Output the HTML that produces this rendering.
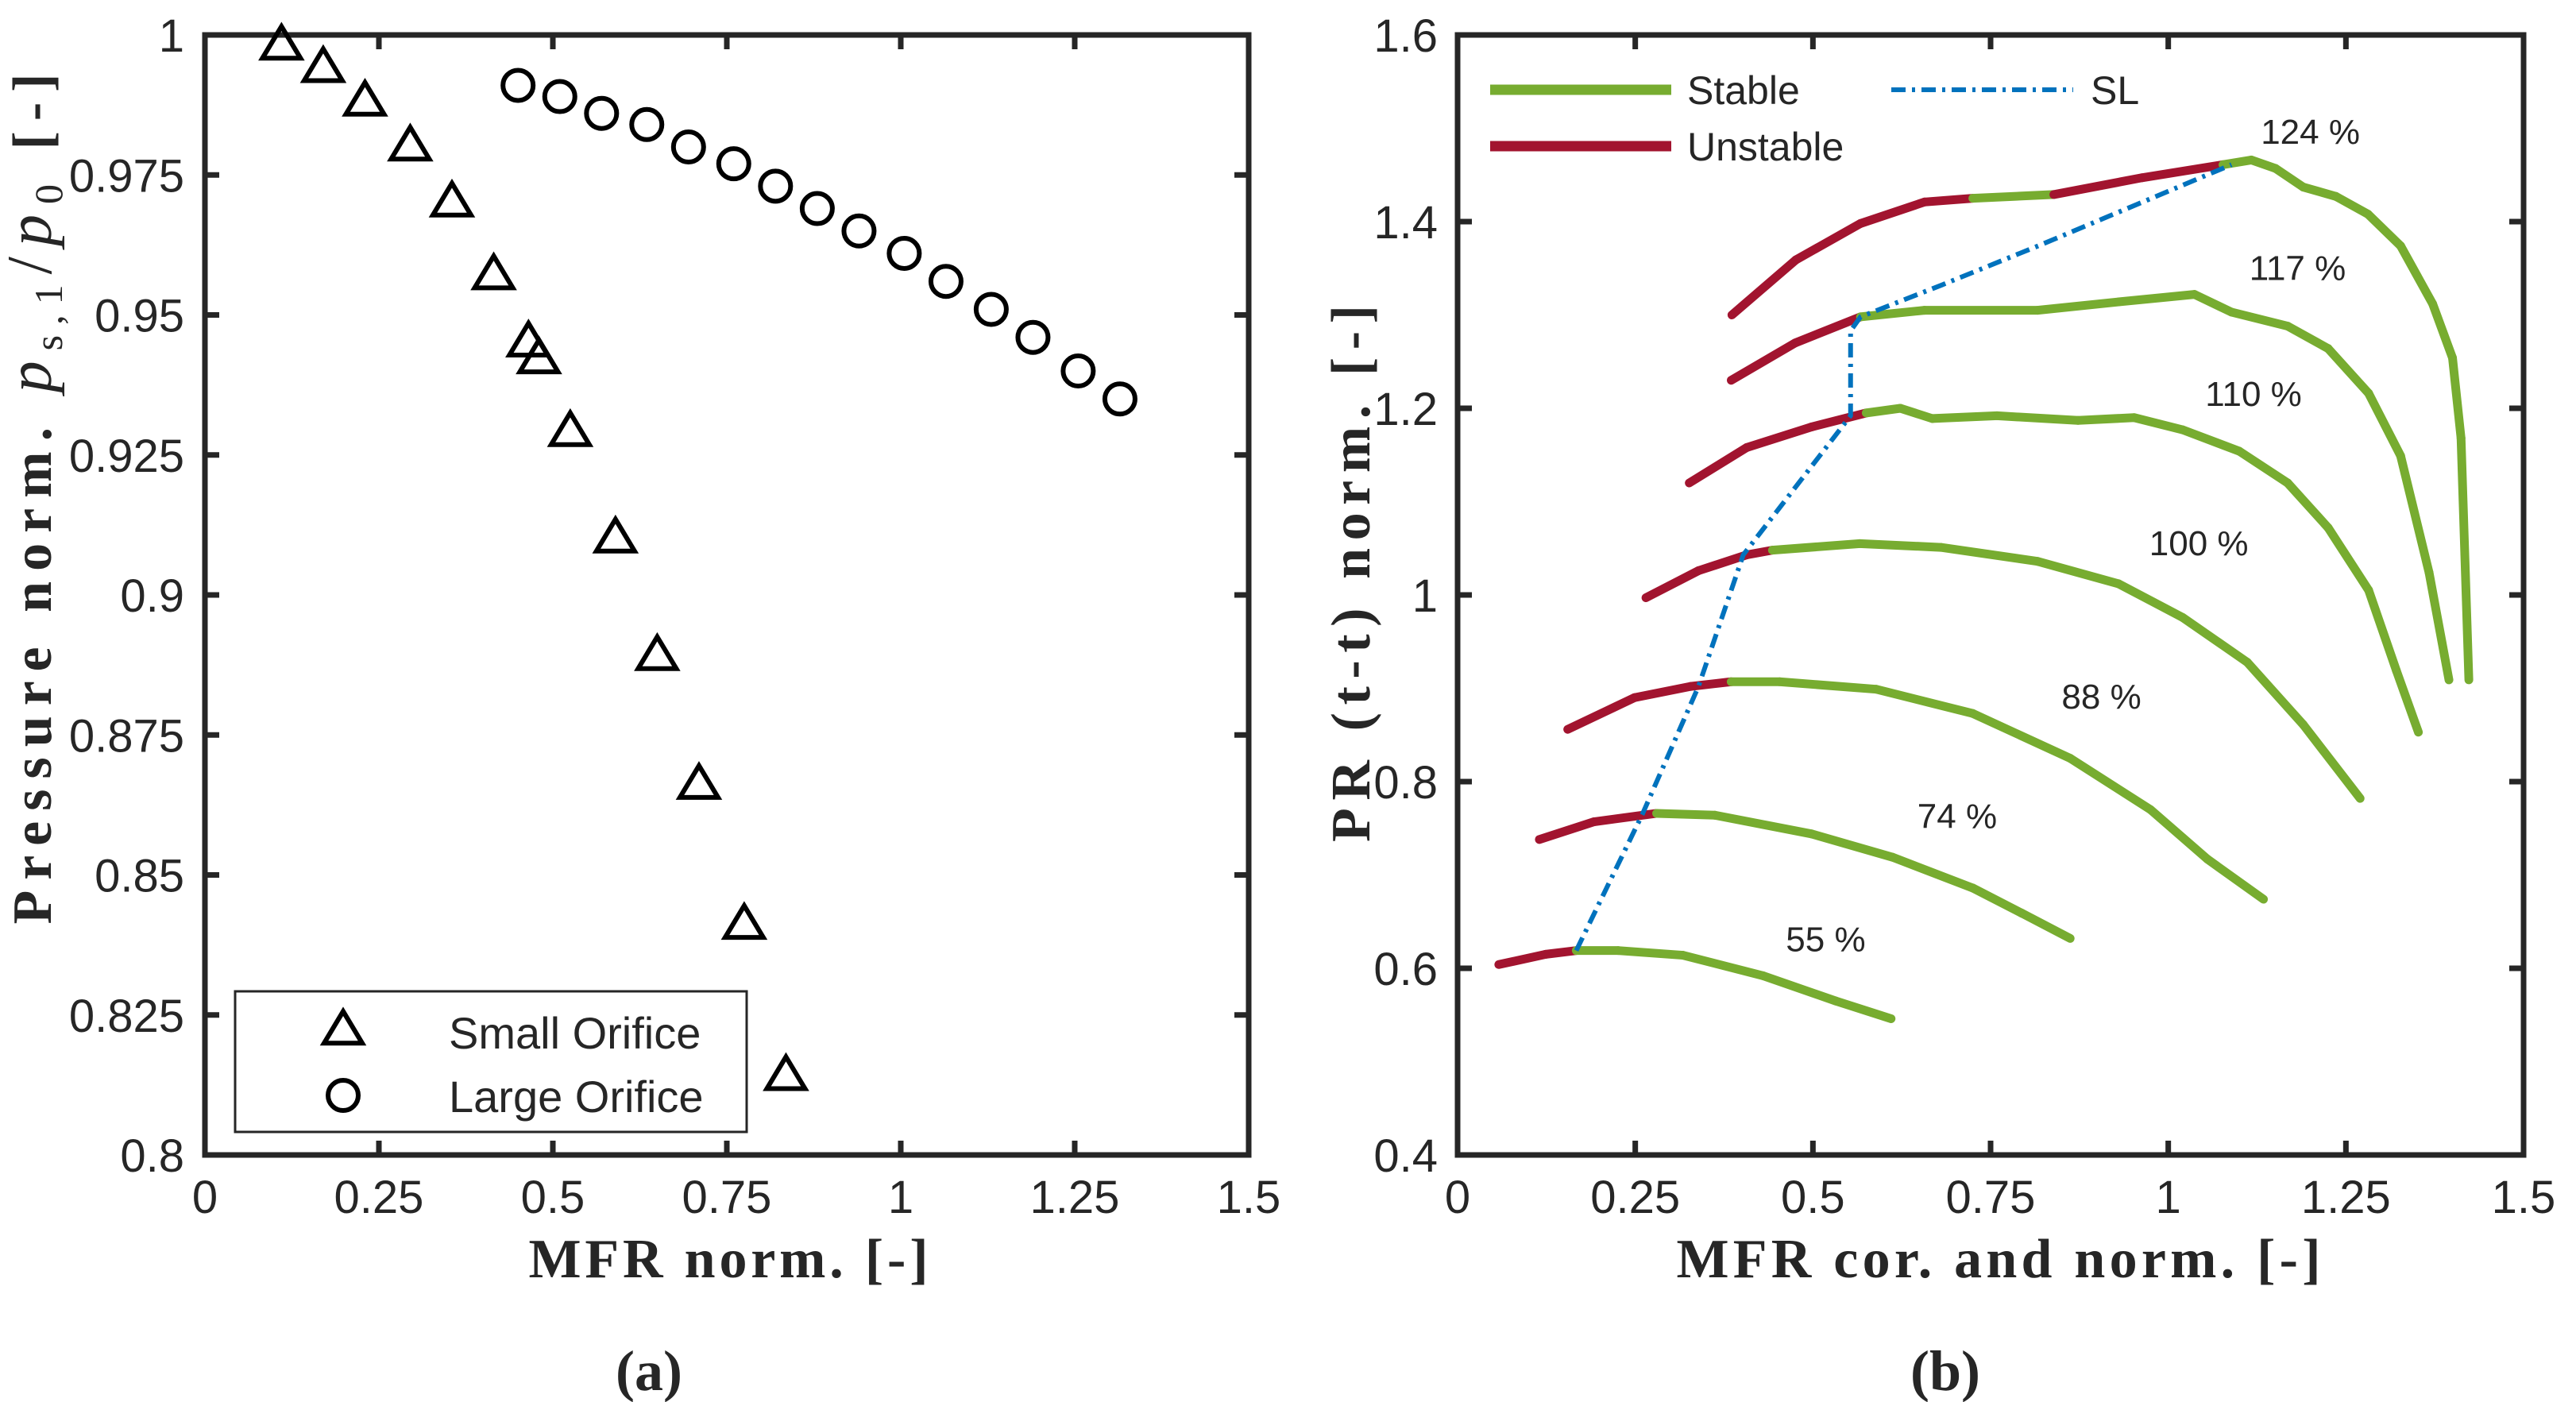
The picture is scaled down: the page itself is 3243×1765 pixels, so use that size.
<!DOCTYPE html>
<html><head><meta charset="utf-8"><style>
html,body{margin:0;padding:0;background:#fff;}
svg{display:block;}
text{font-family:"Liberation Sans",sans-serif;fill:#262626;}
.ttl{font-family:"Liberation Serif",serif;font-weight:bold;fill:#262626;}
</style></head><body>
<svg id="fig" width="3243" height="1765" viewBox="0 0 3243 1765" xmlns="http://www.w3.org/2000/svg">
<g id="left"></g>
<g id="right"></g>
</svg>
<script>
// ---------- Left chart data ----------
const smallX = [0.11,0.17,0.23,0.295,0.355,0.415,0.465,0.48,0.525,0.59,0.65,0.71,0.775,0.835];
const smallY = [0.998,0.994,0.988,0.980,0.970,0.957,0.945,0.942,0.929,0.910,0.889,0.866,0.841,0.814];
const largeX = [0.45,0.51,0.57,0.635,0.695,0.76,0.82,0.88,0.94,1.005,1.065,1.13,1.19,1.255,1.315];
const largeY = [0.991,0.989,0.986,0.984,0.980,0.977,0.973,0.969,0.965,0.961,0.956,0.951,0.946,0.940,0.935];
const leftXTicks = [0,0.25,0.5,0.75,1,1.25,1.5];
const leftXTickLabels = ["0","0.25","0.5","0.75","1","1.25","1.5"];
const leftYTicks = [0.8,0.825,0.85,0.875,0.9,0.925,0.95,0.975,1];
const leftYTickLabels = ["0.8","0.825","0.85","0.875","0.9","0.925","0.95","0.975","1"];

// ---------- Right chart data ----------
const speedLabels = ["124 %","117 %","110 %","100 %","88 %","74 %","55 %"];
const labelX = [1.2,1.182,1.12,1.043,0.906,0.703,0.518];
const labelY = [1.497,1.351,1.216,1.056,0.892,0.764,0.632];
const s124X = [0.386,0.476,0.567,0.657,0.725,0.839,0.963,1.077,1.117,1.151,1.19,1.236,1.281,1.327,1.372,1.40,1.412,1.423];
const s124Y = [1.30,1.359,1.398,1.421,1.425,1.429,1.447,1.461,1.466,1.457,1.437,1.427,1.408,1.374,1.312,1.254,1.168,0.909];
const s124S = ["u","u","u","u","s","u","u","s","s","s","s","s","s","s","s","s","s","s"];
const s117X = [0.385,0.475,0.567,0.657,0.816,0.93,1.037,1.089,1.168,1.225,1.282,1.327,1.367,1.395];
const s117Y = [1.230,1.270,1.298,1.305,1.305,1.314,1.322,1.303,1.288,1.264,1.216,1.149,1.024,0.909];
const s117S = ["u","u","s","s","s","s","s","s","s","s","s","s","s","s"];
const s110X = [0.326,0.407,0.498,0.575,0.623,0.668,0.759,0.873,0.952,1.02,1.10,1.168,1.225,1.282,1.321,1.352];
const s110Y = [1.12,1.158,1.18,1.195,1.20,1.189,1.192,1.187,1.19,1.177,1.154,1.12,1.072,1.005,0.919,0.853];
const s110S = ["u","u","u","s","s","s","s","s","s","s","s","s","s","s","s","s"];
const s100X = [0.265,0.339,0.407,0.443,0.566,0.68,0.816,0.93,1.02,1.111,1.19,1.27];
const s100Y = [0.997,1.026,1.043,1.048,1.055,1.051,1.036,1.012,0.976,0.928,0.861,0.782];
const s100S = ["u","u","u","s","s","s","s","s","s","s","s","s"];
const s88X = [0.155,0.249,0.328,0.385,0.453,0.589,0.725,0.862,0.975,1.055,1.134];
const s88Y = [0.856,0.890,0.902,0.907,0.907,0.899,0.873,0.825,0.770,0.717,0.674];
const s88S = ["u","u","u","s","s","s","s","s","s","s","s"];
const s74X = [0.115,0.192,0.280,0.362,0.498,0.612,0.725,0.794,0.862];
const s74Y = [0.738,0.757,0.766,0.764,0.744,0.719,0.686,0.659,0.632];
const s74S = ["u","u","s","s","s","s","s","s","s"];
const s55X = [0.058,0.124,0.167,0.226,0.317,0.43,0.532,0.61];
const s55Y = [0.604,0.615,0.619,0.619,0.614,0.592,0.565,0.546];
const s55S = ["u","u","s","s","s","s","s","s"];
const slX = [0.167,0.26,0.339,0.402,0.553,0.553,0.567,0.681,0.817,1.089];
const slY = [0.619,0.765,0.902,1.043,1.192,1.283,1.298,1.332,1.374,1.461];
const rightXTicks = [0,0.25,0.5,0.75,1,1.25,1.5];
const rightXTickLabels = ["0","0.25","0.5","0.75","1","1.25","1.5"];
const rightYTicks = [0.4,0.6,0.8,1,1.2,1.4,1.6];
const rightYTickLabels = ["0.4","0.6","0.8","1","1.2","1.4","1.6"];

const NS = "http://www.w3.org/2000/svg";
function mk(tag, attrs, parent){ const e=document.createElementNS(NS,tag); for(const k in attrs) e.setAttribute(k,attrs[k]); parent.appendChild(e); return e; }

function axes(g, L, T, R, B, xt, xtl, yt, ytl, sx, sy, ylx){
  const box = mk("rect",{x:L,y:T,width:R-L,height:B-T,fill:"none",stroke:"#262626","stroke-width":7},g);
  
  
  xt.forEach((v,i)=>{
    const x=sx(v);
    mk("line",{x1:x,y1:B,x2:x,y2:B-18,stroke:"#262626","stroke-width":7},g);
    mk("line",{x1:x,y1:T,x2:x,y2:T+18,stroke:"#262626","stroke-width":7},g);
    const t=mk("text",{x:x,y:1527,"font-size":58,"text-anchor":"middle"},g); t.textContent=xtl[i];
    
    
  });
  yt.forEach((v,i)=>{
    const y=sy(v);
    mk("line",{x1:L,y1:y,x2:L+18,y2:y,stroke:"#262626","stroke-width":7},g);
    mk("line",{x1:R,y1:y,x2:R-18,y2:y,stroke:"#262626","stroke-width":7},g);
    const t=mk("text",{x:ylx,y:y+21,"font-size":58,"text-anchor":"end"},g); t.textContent=ytl[i];
    
    
  });
}

// ---------- Left chart ----------
(function(){
  const g=document.getElementById("left");
  const L=258,T=44,R=1572,B=1454;
  const sx=v=>L+(v-0)/1.5*(R-L);
  const sy=v=>B-(v-0.8)/0.2*(B-T);
  axes(g,L,T,R,B,leftXTicks,leftXTickLabels,leftYTicks,leftYTickLabels,sx,sy,232);
  function tri(cx,cy,parent){ const h=40,w=24; return mk("path",{d:`M${cx},${cy-h*0.62} L${cx+w},${cy+h*0.38} L${cx-w},${cy+h*0.38} Z`,fill:"none",stroke:"#000","stroke-width":6,"stroke-linejoin":"miter"},parent); }
  smallX.forEach((v,i)=>{ const p=tri(sx(v),sy(smallY[i]),g);
    
     });
  largeX.forEach((v,i)=>{ const c=mk("circle",{cx:sx(v),cy:sy(largeY[i]),r:19,fill:"none",stroke:"#000","stroke-width":6},g);
    
     });
  const lg=mk("g",{},g);
  
  
  mk("rect",{x:296,y:1248,width:644,height:177,fill:"#fff",stroke:"#262626","stroke-width":3},lg);
  tri(432,1298,lg); mk("circle",{cx:432,cy:1379,r:19,fill:"none",stroke:"#000","stroke-width":6},lg);
  let t=mk("text",{x:565,y:1320,"font-size":56,fill:"#000"},lg); t.textContent="Small Orifice";
  t=mk("text",{x:565,y:1400,"font-size":56,fill:"#000"},lg); t.textContent="Large Orifice";
  t=mk("text",{x:917,y:1608,"font-size":70,"text-anchor":"middle",class:"ttl",textLength:503,lengthAdjust:"spacing"},g); t.textContent="MFR norm. [-]";
   
  t=mk("text",{x:0,y:0,"font-size":70,"text-anchor":"middle",class:"ttl",transform:"translate(64,628) rotate(-90)",textLength:1071,lengthAdjust:"spacing"},g);
  t.innerHTML='Pressure norm. <tspan font-style="italic" font-weight="normal" font-size="80">p</tspan><tspan font-size="50" dy="14" font-weight="normal">s,1</tspan><tspan dy="-14" font-weight="normal" font-size="80">/</tspan><tspan font-style="italic" font-weight="normal" font-size="80">p</tspan><tspan font-size="50" dy="14" font-weight="normal">0</tspan><tspan dy="-14"> [-]</tspan>';
   
  t=mk("text",{x:817,y:1750,"font-size":72,"text-anchor":"middle",class:"ttl"},g); t.textContent="(a)";
   
})();

// ---------- Right chart ----------
(function(){
  const g=document.getElementById("right");
  const L=1835,T=44,R=3177,B=1454;
  const sx=v=>L+v/1.5*(R-L);
  const sy=v=>B-(v-0.4)/1.2*(B-T);
  axes(g,L,T,R,B,rightXTicks,rightXTickLabels,rightYTicks,rightYTickLabels,sx,sy,1810);
  const G="#77ac30", Rd="#a2142f";
  const lines=[[s124X,s124Y,s124S,"speedline-124"],[s117X,s117Y,s117S,"speedline-117"],[s110X,s110Y,s110S,"speedline-110"],[s100X,s100Y,s100S,"speedline-100"],[s88X,s88Y,s88S,"speedline-88"],[s74X,s74Y,s74S,"speedline-74"],[s55X,s55Y,s55S,"speedline-55"]];
  lines.forEach(([xs,ys,ss,name])=>{
    const sg=mk("g",{},g);
    
    
    for(let i=0;i<xs.length-1;i++){
      mk("line",{x1:sx(xs[i]),y1:sy(ys[i]),x2:sx(xs[i+1]),y2:sy(ys[i+1]),stroke:ss[i]==="u"?Rd:G,"stroke-width":11,"stroke-linecap":"round"},sg);
    }
  });
  const pts=slX.map((v,i)=>sx(v)+","+sy(slY[i])).join(" ");
  const sl=mk("polyline",{points:pts,fill:"none",stroke:"#0072bd","stroke-width":6,"stroke-dasharray":"18 8 4 8"},g);
  
  
  speedLabels.forEach((s,i)=>{
    const t=mk("text",{x:sx(labelX[i]),y:sy(labelY[i])+16,"font-size":44,"text-anchor":"middle",fill:"#000"},g); t.textContent=s;
    
    
  });
  const lg=mk("g",{},g);
  
  
  mk("line",{x1:1876,y1:113,x2:2104,y2:113,stroke:G,"stroke-width":13},lg);
  mk("line",{x1:1876,y1:184,x2:2104,y2:184,stroke:Rd,"stroke-width":13},lg);
  mk("line",{x1:2381,y1:113,x2:2610,y2:113,stroke:"#0072bd","stroke-width":6,"stroke-dasharray":"18 8 4 8"},lg);
  let t=mk("text",{x:2124,y:131,"font-size":50,fill:"#000"},lg); t.textContent="Stable";
  t=mk("text",{x:2124,y:202,"font-size":50,fill:"#000"},lg); t.textContent="Unstable";
  t=mk("text",{x:2632,y:131,"font-size":50,fill:"#000"},lg); t.textContent="SL";
  t=mk("text",{x:2516,y:1608,"font-size":70,"text-anchor":"middle",class:"ttl",textLength:811,lengthAdjust:"spacing"},g); t.textContent="MFR cor. and norm. [-]";
   
  t=mk("text",{x:0,y:0,"font-size":70,"text-anchor":"middle",class:"ttl",transform:"translate(1724,722) rotate(-90)",textLength:676,lengthAdjust:"spacing"},g); t.textContent="PR (t-t) norm. [-]";
   
  t=mk("text",{x:2449,y:1750,"font-size":72,"text-anchor":"middle",class:"ttl"},g); t.textContent="(b)";
   
})();
</script>
</body></html>
